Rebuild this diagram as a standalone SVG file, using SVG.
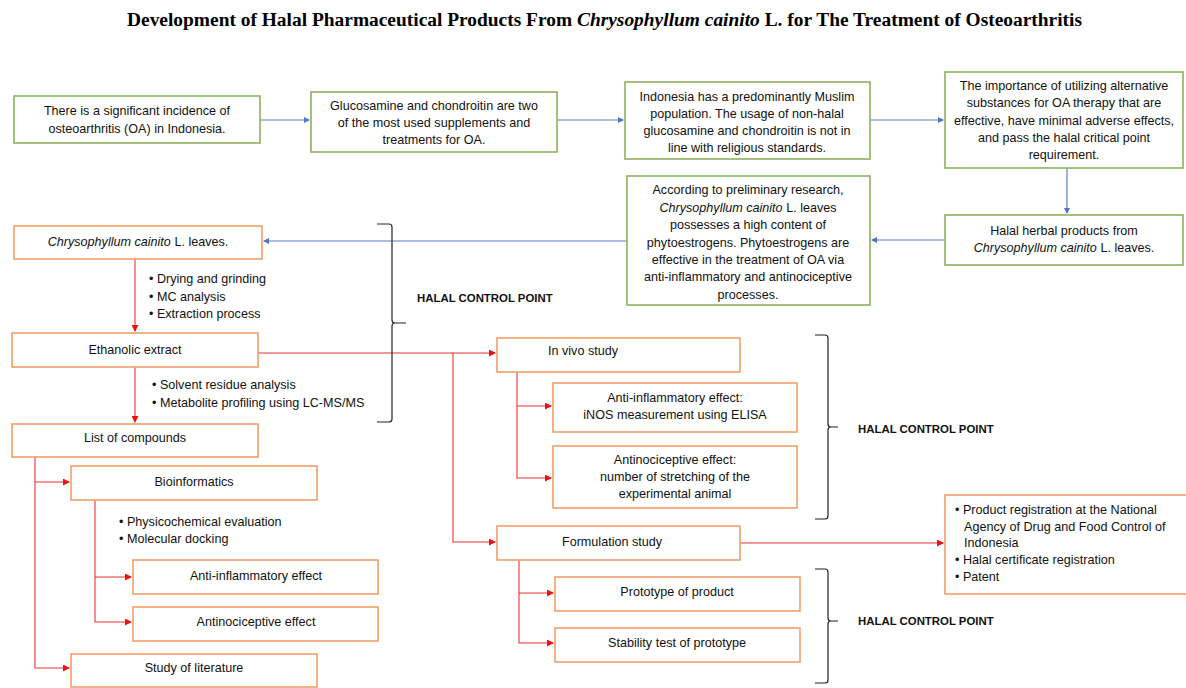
<svg xmlns="http://www.w3.org/2000/svg" width="1186" height="688" viewBox="0 0 1186 688">
  <style>
    .t { font-family: "Liberation Sans", Arial, sans-serif; font-size: 12.6px; fill: #111111; }
    .c { text-anchor: middle; }
    .g { fill: #ffffff; stroke: #92b05c; stroke-width: 1.6; }
    .o { fill: #ffffff; stroke: #f2a068; stroke-width: 1.6; }
    .bl { fill: none; stroke: #5b7fc0; stroke-width: 1.2; }
    .rd { fill: none; stroke: #ee3333; stroke-width: 1.1; }
    .br { fill: none; stroke: #222222; stroke-width: 1.2; }
    .hcp { font-family: "Liberation Sans", Arial, sans-serif; font-size: 11.4px; font-weight: bold; fill: #111; }
    .title { font-family: "Liberation Serif", "Times New Roman", serif; font-size: 18.5px; font-weight: bold; fill: #000; }
  </style>
  <defs>
    <marker id="ab" markerWidth="6" markerHeight="6" refX="5" refY="3" orient="auto" markerUnits="userSpaceOnUse">
      <path d="M0,0 L6,3 L0,6 Z" fill="#4f74c0"/>
    </marker>
    <marker id="ar" markerWidth="7" markerHeight="7" refX="6" refY="3.5" orient="auto" markerUnits="userSpaceOnUse">
      <path d="M0,0 L7,3.5 L0,7 Z" fill="#ee1111"/>
    </marker>
  </defs>
  <rect width="1186" height="688" fill="#ffffff"/>

  <text class="title" x="127" y="26" textLength="955" lengthAdjust="spacingAndGlyphs">Development of Halal Pharmaceutical Products From <tspan font-style="italic">Chrysophyllum cainito</tspan> L. for The Treatment of Osteoarthritis</text>

  <!-- connectors -->
  <g id="connectors">
    <path class="bl" d="M260,120 H309" marker-end="url(#ab)"/>
    <path class="bl" d="M557,120 H623" marker-end="url(#ab)"/>
    <path class="bl" d="M870,120 H943" marker-end="url(#ab)"/>
    <path class="bl" d="M1067,168 V213" marker-end="url(#ab)"/>
    <path class="bl" d="M945,240 H872" marker-end="url(#ab)"/>
    <path class="bl" d="M627,241 H264" marker-end="url(#ab)"/>

    <path class="rd" d="M135,259 V331" marker-end="url(#ar)"/>
    <path class="rd" d="M135,367 V422" marker-end="url(#ar)"/>
    <path class="rd" d="M35,457 V668 H69" marker-end="url(#ar)"/>
    <path class="rd" d="M35,482 H69" marker-end="url(#ar)"/>
    <path class="rd" d="M95,500 V622 H131" marker-end="url(#ar)"/>
    <path class="rd" d="M95,577 H131" marker-end="url(#ar)"/>

    <path class="rd" d="M258,353 H495" marker-end="url(#ar)"/>
    <path class="rd" d="M453,353 V542 H495" marker-end="url(#ar)"/>
    <path class="rd" d="M517,372 V478 H551" marker-end="url(#ar)"/>
    <path class="rd" d="M517,406 H551" marker-end="url(#ar)"/>
    <path class="rd" d="M740,543 H943" marker-end="url(#ar)"/>
    <path class="rd" d="M519,560 V643 H553" marker-end="url(#ar)"/>
    <path class="rd" d="M519,593 H553" marker-end="url(#ar)"/>
  </g>

  <!-- halal control point braces -->
  <g id="brace-1">
    <path class="br" d="M377,224 H389 Q392,224 392,227 V320 Q392,323 395,323 H406 M395,323 Q392,323 392,326 V419 Q392,422 389,422 H377"/>
    <text class="hcp" x="417" y="302">HALAL CONTROL POINT</text>
  </g>
  <g id="brace-2">
    <path class="br" d="M815,335 H825 Q828,335 828,338 V424 Q828,427 831,427 H838 M831,427 Q828,427 828,430 V516 Q828,519 825,519 H815"/>
    <text class="hcp" x="858" y="433">HALAL CONTROL POINT</text>
  </g>
  <g id="brace-3">
    <path class="br" d="M815,569 H825 Q828,569 828,572 V618 Q828,621 831,621 H838 M831,621 Q828,621 828,624 V680 Q828,683 825,683 H815"/>
    <text class="hcp" x="858" y="625">HALAL CONTROL POINT</text>
  </g>

  <!-- background row -->
  <g id="n-incidence">
    <rect class="g" x="14" y="96" width="246" height="47"/>
    <text class="t c" x="137" y="115">There is a significant incidence of</text>
    <text class="t c" x="137" y="133">osteoarthritis (OA) in Indonesia.</text>
  </g>
  <g id="n-glucosamine">
    <rect class="g" x="311" y="92" width="246" height="60"/>
    <text class="t c" x="434" y="110">Glucosamine and chondroitin are two</text>
    <text class="t c" x="434" y="127">of the most used supplements and</text>
    <text class="t c" x="434" y="144">treatments for OA.</text>
  </g>
  <g id="n-muslim">
    <rect class="g" x="625" y="82" width="245" height="77"/>
    <text class="t c" x="747" y="101">Indonesia has a predominantly Muslim</text>
    <text class="t c" x="747" y="118">population. The usage of non-halal</text>
    <text class="t c" x="747" y="135">glucosamine and chondroitin is not in</text>
    <text class="t c" x="747" y="152">line with religious standards.</text>
  </g>
  <g id="n-alternative">
    <rect class="g" x="945" y="72" width="238" height="96"/>
    <text class="t c" x="1064" y="90">The importance of utilizing alternative</text>
    <text class="t c" x="1064" y="107">substances for OA therapy that are</text>
    <text class="t c" x="1064" y="125">effective, have minimal adverse effects,</text>
    <text class="t c" x="1064" y="142">and pass the halal critical point</text>
    <text class="t c" x="1064" y="159">requirement.</text>
  </g>
  <g id="n-halal-herbal">
    <rect class="g" x="945" y="215" width="238" height="50"/>
    <text class="t c" x="1064" y="235">Halal herbal products from</text>
    <text class="t c" x="1064" y="252"><tspan font-style="italic">Chrysophyllum cainito</tspan> L. leaves.</text>
  </g>
  <g id="n-preliminary">
    <rect class="g" x="627" y="176" width="243" height="129"/>
    <text class="t c" x="748" y="194">According to preliminary research,</text>
    <text class="t c" x="748" y="212"><tspan font-style="italic">Chrysophyllum cainito</tspan> L. leaves</text>
    <text class="t c" x="748" y="229">possesses a high content of</text>
    <text class="t c" x="748" y="247">phytoestrogens. Phytoestrogens are</text>
    <text class="t c" x="748" y="264">effective in the treatment of OA via</text>
    <text class="t c" x="748" y="281">anti-inflammatory and antinociceptive</text>
    <text class="t c" x="748" y="299">processes.</text>
  </g>

  <!-- left workflow -->
  <g id="n-leaves">
    <rect class="o" x="14" y="226" width="248" height="33"/>
    <text class="t c" x="138" y="246"><tspan font-style="italic">Chrysophyllum cainito</tspan> L. leaves.</text>
  </g>
  <g id="steps-extraction">
    <text class="t" x="149" y="283">• Drying and grinding</text>
    <text class="t" x="149" y="301">• MC analysis</text>
    <text class="t" x="149" y="318">• Extraction process</text>
  </g>
  <g id="n-ethanolic">
    <rect class="o" x="12" y="333" width="246" height="34"/>
    <text class="t c" x="135" y="354">Ethanolic extract</text>
  </g>
  <g id="steps-profiling">
    <text class="t" x="152" y="389">• Solvent residue analysis</text>
    <text class="t" x="152" y="407">• Metabolite profiling using LC-MS/MS</text>
  </g>
  <g id="n-compounds">
    <rect class="o" x="12" y="424" width="246" height="33"/>
    <text class="t c" x="135" y="442">List of compounds</text>
  </g>
  <g id="n-bioinformatics">
    <rect class="o" x="71" y="466" width="246" height="34"/>
    <text class="t c" x="194" y="486">Bioinformatics</text>
  </g>
  <g id="steps-docking">
    <text class="t" x="119" y="526">• Physicochemical evaluation</text>
    <text class="t" x="119" y="543">• Molecular docking</text>
  </g>
  <g id="n-anti-inflammatory">
    <rect class="o" x="133" y="560" width="245" height="34"/>
    <text class="t c" x="256" y="580">Anti-inflammatory effect</text>
  </g>
  <g id="n-antinociceptive">
    <rect class="o" x="133" y="607" width="245" height="34"/>
    <text class="t c" x="256" y="626">Antinociceptive effect</text>
  </g>
  <g id="n-literature">
    <rect class="o" x="71" y="654" width="246" height="33"/>
    <text class="t c" x="194" y="672">Study of literature</text>
  </g>

  <!-- in vivo and formulation -->
  <g id="n-in-vivo">
    <rect class="o" x="497" y="338" width="243" height="34"/>
    <text class="t c" x="583" y="355">In vivo study</text>
  </g>
  <g id="n-inos">
    <rect class="o" x="553" y="383" width="244" height="49"/>
    <text class="t c" x="675" y="402">Anti-inflammatory effect:</text>
    <text class="t c" x="675" y="419">iNOS measurement using ELISA</text>
  </g>
  <g id="n-stretching">
    <rect class="o" x="553" y="446" width="244" height="62"/>
    <text class="t c" x="675" y="464">Antinociceptive effect:</text>
    <text class="t c" x="675" y="481">number of stretching of the</text>
    <text class="t c" x="675" y="498">experimental animal</text>
  </g>
  <g id="n-formulation">
    <rect class="o" x="497" y="526" width="243" height="34"/>
    <text class="t c" x="612" y="546">Formulation study</text>
  </g>
  <g id="n-prototype">
    <rect class="o" x="555" y="577" width="245" height="34"/>
    <text class="t c" x="677" y="596">Prototype of product</text>
  </g>
  <g id="n-stability">
    <rect class="o" x="555" y="628" width="245" height="34"/>
    <text class="t c" x="677" y="647">Stability test of prototype</text>
  </g>
  <g id="n-registration">
    <rect class="o" x="945" y="495" width="245" height="99"/>
    <text class="t" x="955" y="514">• Product registration at the National</text>
    <text class="t" x="964" y="531">Agency of Drug and Food Control of</text>
    <text class="t" x="964" y="547">Indonesia</text>
    <text class="t" x="955" y="564">• Halal certificate registration</text>
    <text class="t" x="955" y="581">• Patent</text>
  </g>
</svg>
